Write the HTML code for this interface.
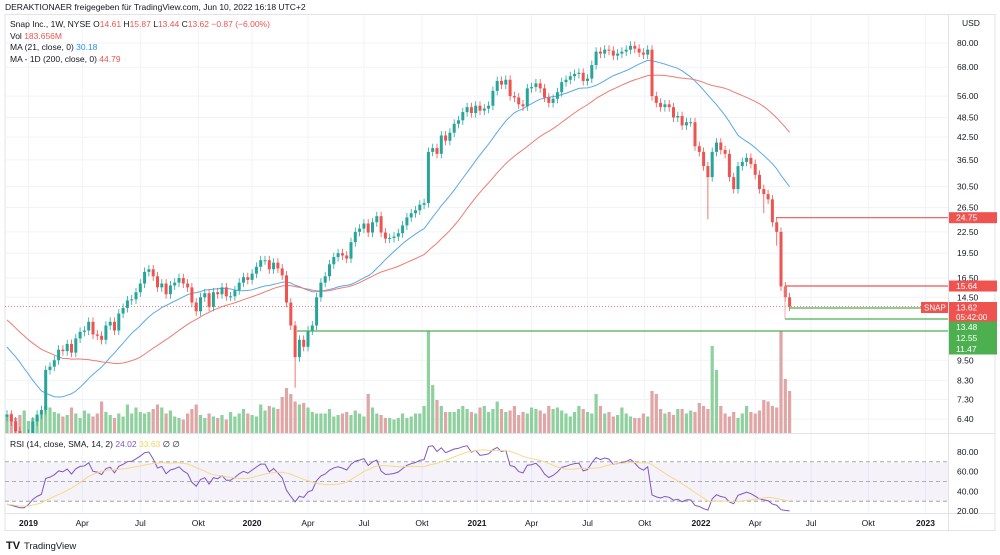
<!DOCTYPE html>
<html><head><meta charset="utf-8"><style>
html,body{margin:0;padding:0;background:#fff;}
svg{display:block;font-family:"Liberation Sans",sans-serif;}
</style></head><body>
<svg id="c" width="1000" height="555" viewBox="0 0 1000 555">
<rect width="1000" height="555" fill="#fff"/>
<text x="5" y="10" font-size="8.5" fill="#131722">DERAKTIONAER freigegeben für TradingView.com, Jun 10, 2022 16:18 UTC+2</text>
<rect x="5" y="14.5" width="990" height="516" fill="none" stroke="#e0e3eb"/>
<g id="grid"></g>
<rect x="5" y="463" width="943" height="38" fill="#7e57c2" opacity="0.08"/>
<g id="vol"></g>
<g id="main"></g>
<g id="rsi"></g>
<g id="axis"></g>
<g id="legend" font-size="8.5">
<text x="10" y="27" fill="#131722">Snap Inc., 1W, NYSE <tspan fill="#131722">O</tspan><tspan fill="#ef5350">14.61</tspan> H<tspan fill="#ef5350">15.87</tspan> L<tspan fill="#ef5350">13.44</tspan> C<tspan fill="#ef5350">13.62 −0.87 (−6.00%)</tspan></text>
<text x="10" y="39" fill="#131722">Vol <tspan fill="#ef5350">183.656M</tspan></text>
<text x="10" y="50" fill="#131722">MA (21, close, 0) <tspan fill="#2196f3">30.18</tspan></text>
<text x="10" y="62" fill="#131722">MA - 1D (200, close, 0) <tspan fill="#ef5350">44.79</tspan></text>
<text x="10" y="447" fill="#131722">RSI (14, close, SMA, 14, 2) <tspan fill="#7e57c2">24.02</tspan> <tspan fill="#f5d55c">33.63</tspan> ∅ ∅</text>
</g>
<text x="962" y="26" font-size="8.5" fill="#131722">USD</text>
<g><text x="6" y="549" font-size="11" font-weight="bold" fill="#131722">TV</text><text x="24" y="549" font-size="9.5" fill="#131722">TradingView</text></g>
</svg>
<script>
const pre=[14.5,19.0,19.5,18.5,17.0,17.5,16.0,15.5,15.0,14.5,14.0,14.5,15.0,14.0,11.0,11.5,10.8,11.5,12.5,13.0,13.5,12.5,13.0,13.5,13.0,13.5,12.8,12.5,11.5,11.0,11.3,10.5,9.8,9.0,8.5,8.0,7.3,7.0,6.8,6.5];
const closes=[6.6,6.3,5.9,5.5,5.5,5.8,6.3,6.6,6.8,8.9,9.1,9.5,10.2,10.1,10.6,10.0,11.0,11.5,11.6,12.3,11.3,11.2,10.9,12.0,12.3,11.6,13.0,13.5,14.2,14.3,15.0,15.9,17.2,17.5,16.7,15.5,15.9,14.8,15.7,16.0,16.5,15.9,15.5,14.0,13.2,14.5,14.9,13.6,15.0,14.8,15.5,14.6,14.6,15.2,16.0,16.6,16.3,17.0,17.8,18.6,18.6,17.5,18.3,17.6,16.8,14.0,12.0,9.7,10.9,10.4,11.6,12.0,14.5,16.0,16.7,18.1,19.0,19.5,19.2,18.8,21.0,22.5,23.0,23.8,22.4,24.0,25.0,22.4,21.5,21.6,21.8,22.3,23.5,24.8,25.5,26.0,27.0,27.3,38.5,39.5,38.0,43.0,41.5,43.8,46.5,47.6,50.3,52.0,50.0,52.5,50.8,51.5,52.5,58.0,62.0,60.5,62.5,56.0,55.5,53.0,52.3,59.0,59.5,61.0,59.0,55.5,53.5,55.0,57.5,61.5,62.5,64.0,65.0,65.5,62.0,63.0,69.0,75.5,74.5,76.5,76.0,73.5,74.5,75.5,76.5,78.5,77.0,75.0,74.0,76.5,56.0,53.5,52.0,53.0,52.0,48.5,49.0,46.0,47.0,47.0,40.0,38.5,35.0,32.5,38.5,41.0,39.0,38.0,32.5,30.0,35.0,36.0,37.0,35.5,33.0,30.0,29.0,28.0,24.0,22.5,15.6,14.5,13.62];
const volumes=[55,65,50,60,75,40,50,55,65,90,85,70,65,55,60,85,65,50,75,65,55,65,105,70,60,50,65,55,95,65,85,70,65,70,80,95,85,65,75,55,50,45,65,80,95,60,50,65,55,50,60,45,70,55,65,80,65,60,55,95,75,90,85,80,120,150,130,105,95,100,85,70,65,65,65,80,55,60,65,70,60,75,65,55,130,85,65,60,50,50,45,50,65,50,55,65,65,90,340,160,110,90,70,70,70,80,90,80,70,65,85,90,70,80,105,80,70,75,90,60,70,65,85,80,75,65,90,80,85,75,65,55,70,90,80,70,65,130,90,65,70,55,60,85,65,55,50,50,65,55,140,130,80,65,70,60,80,80,65,75,70,100,90,80,290,210,90,65,55,70,50,65,90,70,65,75,110,105,90,85,340,180,140];
const lowSpikes={67:7.9,163:24.5,176:25.5,179:20.5};
const priceTicks=[80,68,56,48.5,42.5,36.5,30.5,26.5,22.5,19.5,16.5,14.5,9.5,8.3,7.3,6.4];
const timeLabels=["2019","Apr","Jul","Okt","2020","Apr","Jul","Okt","2021","Apr","Jul","Okt","2022","Apr","Jul","Okt","2023"];
const timeWeeks=[5,17.5,31,44.5,57,70,83,96.5,109.3,122,135,148.3,161.4,174,187,200.3,213.6];
const rsiTicks=[80,60,40,20];

const NS="http://www.w3.org/2000/svg";
function mk(t,a,p){const e=document.createElementNS(NS,t);for(const k in a)e.setAttribute(k,a[k]);(p||document.getElementById('c')).appendChild(e);return e;}
const X=i=>7+4.3*i;
const Y=p=>43+(Math.log(80)-Math.log(p))*148.9;
const VY=v=>433-v*0.3;
const RY=r=>511-(r-20)*(59/60);
const grid=document.getElementById('grid'),main=document.getElementById('main'),vol=document.getElementById('vol'),rsiG=document.getElementById('rsi'),axis=document.getElementById('axis');

priceTicks.forEach(p=>{
  const l=mk('line',{x1:5,x2:948,y1:Y(p),y2:Y(p),stroke:'#f0f3fa'},grid);
  
  
  const t=mk('text',{x:957,y:Y(p)+3,'font-size':8.5,fill:'#131722'},axis);
  t.textContent=p.toFixed(2);
  
  
});
timeLabels.forEach((s,k)=>{
  const x=X(timeWeeks[k]);
  const l=mk('line',{x1:x,x2:x,y1:15,y2:513,stroke:'#f0f3fa'},grid);
  
  
  const t=mk('text',{x:x,y:526,'font-size':8.5,'text-anchor':'middle',fill:'#131722','font-weight':/^\d/.test(s)?'bold':'normal'},axis);
  t.textContent=s;
  
  
});
mk('line',{x1:5,x2:995,y1:433.5,y2:433.5,stroke:'#e0e3eb'},grid);
mk('line',{x1:5,x2:995,y1:513.5,y2:513.5,stroke:'#e0e3eb'},grid);
mk('line',{x1:948.5,x2:948.5,y1:15,y2:530,stroke:'#e0e3eb'},grid);
rsiTicks.forEach(r=>{
  const t=mk('text',{x:957,y:RY(r)+3,'font-size':8.5,fill:'#131722'},axis);
  t.textContent=r.toFixed(2);
  
  
});
[70,50,30].forEach(r=>{mk('line',{x1:5,x2:948,y1:RY(r),y2:RY(r),stroke:'#9598a1','stroke-dasharray':'4 3','stroke-width':0.8},rsiG);});

const defs=mk('defs',{});
const cp=mk('clipPath',{id:'mc'},defs);mk('rect',{x:5,y:15,width:943,height:418},cp);
main.setAttribute('clip-path','url(#mc)');vol.setAttribute('clip-path','url(#mc)');

volumes.forEach((v,i)=>{
  const up=closes[i]>=(i?closes[i-1]:pre[pre.length-1]);
  const b=mk('rect',{x:X(i)-1.6,y:VY(v),width:3.2,height:433-VY(v),fill:up?'#8fd19e':'#e0a5a5'},vol);
  
  
});

const all=pre.concat(closes);const off=pre.length;
function ma(n){const out=[];for(let i=0;i<closes.length;i++){const j=i+off;let s=0,c=0;for(let k=Math.max(0,j-n+1);k<=j;k++){s+=all[k];c++;}out.push(s/c);}return out;}
const ma21=ma(21),ma40=ma(40);
const p1=mk('path',{d:ma21.map((v,i)=>(i?'L':'M')+X(i)+','+Y(v)).join(''),fill:'none',stroke:'#5aa9e6','stroke-width':1},main);


const p2=mk('path',{d:ma40.map((v,i)=>(i?'L':'M')+X(i)+','+Y(v)).join(''),fill:'none',stroke:'#ef7b72','stroke-width':1},main);



mk('line',{x1:5,x2:948,y1:Y(13.62),y2:Y(13.62),stroke:'#ef5350','stroke-dasharray':'1 2','stroke-width':0.7},main);

closes.forEach((c,i)=>{
  const o=i?closes[i-1]:pre[pre.length-1];
  const up=c>=o;const col=up?'#26a69a':'#ef5350';
  const hi=Math.max(o,c)*1.03;const lo=lowSpikes[i]||Math.min(o,c)*0.97;
  mk('line',{x1:X(i),x2:X(i),y1:Y(hi),y2:Y(lo),stroke:col,'stroke-width':0.8},main);
  const top=Y(Math.max(o,c)),bot=Y(Math.min(o,c));
  const r=mk('rect',{x:X(i)-1.5,y:top,width:3,height:Math.max(1,bot-top),fill:col},main);
  
  
});

[[776,24.75,'#ef5350'],[785,15.64,'#ef5350']].forEach(a=>{mk('line',{x1:a[0],x2:948,y1:Y(a[1]),y2:Y(a[1]),stroke:a[2],'stroke-width':1.2},main);});
mk('line',{x1:789,x2:948,y1:308,y2:308,stroke:'#4caf50','stroke-width':1.2},main);
mk('line',{x1:785,x2:948,y1:319,y2:319,stroke:'#4caf50','stroke-width':1.2},main);
mk('line',{x1:785,x2:785,y1:286,y2:319,stroke:'#ef9a9a','stroke-width':0.8},main);
mk('line',{x1:297,x2:948,y1:331,y2:331,stroke:'#4caf50','stroke-width':1.2},main);

function lab(y,txt,bg,h,name){const g=mk('g',{},axis);mk('rect',{x:949,y:y-h/2,width:48,height:h,fill:bg},g);const t=mk('text',{x:956,y:y+3,'font-size':8.5,fill:'#fff'},g);t.textContent=txt;return g;}
lab(Y(24.75),'24.75','#ef5350',11,'level-label-24-75');
lab(Y(15.64),'15.64','#ef5350',11,'level-label-15-64');
const cg=mk('g',{},axis);
mk('rect',{x:921,y:302,width:27,height:11,fill:'#ef5350'},cg);
const st=mk('text',{x:924,y:310.5,'font-size':8,fill:'#fff'},cg);st.textContent='SNAP';
mk('rect',{x:949,y:302,width:48,height:20,fill:'#ef5350'},cg);
const t1=mk('text',{x:956,y:310.5,'font-size':8.5,fill:'#fff'},cg);t1.textContent='13.62';
const t2=mk('text',{x:956,y:320,'font-size':8,fill:'#fff'},cg);t2.textContent='05:42:00';
lab(327,'13.48','#4caf50',11,'level-label-13-48');
lab(338,'12.55','#4caf50',11,'level-label-12-55');
lab(349,'11.47','#4caf50',11,'level-label-11-47');

const rs=[];let ag=0,al=0;
for(let j=1;j<all.length;j++){const d=all[j]-all[j-1];const g=Math.max(d,0),l=Math.max(-d,0);if(j<=14){ag+=g/14;al+=l/14;}else{ag=(ag*13+g)/14;al=(al*13+l)/14;}if(j>=off)rs.push(100-100/(1+ag/(al||1e-9)));}
const sma=rs.map((v,i)=>{let s=0,c=0;for(let k=Math.max(0,i-13);k<=i;k++){s+=rs[k];c++;}return s/c;});
const rp=mk('path',{d:rs.map((v,i)=>(i?'L':'M')+X(i)+','+RY(v)).join(''),fill:'none',stroke:'#7e57c2','stroke-width':1},rsiG);


const sp=mk('path',{d:sma.map((v,i)=>(i?'L':'M')+X(i)+','+RY(v)).join(''),fill:'none',stroke:'#f5d98a','stroke-width':1},rsiG);


</script>
</body></html>
